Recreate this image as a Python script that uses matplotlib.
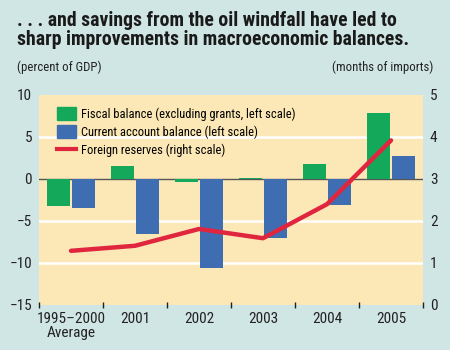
import matplotlib.pyplot as plt
from matplotlib.patches import Patch
from matplotlib.lines import Line2D
import numpy as np

# data
years = ['1995\u20132000\nAverage', '2001', '2002', '2003', '2004', '2005']
fiscal = [-3.2, 1.6, -0.3, 0.1, 1.8, 7.9]
current = [-3.4, -6.6, -10.6, -7.0, -3.1, 2.7]
reserves = [1.29, 1.41, 1.81, 1.59, 2.40, 3.92]

left_ticks = [-15, -10, -5, 0, 5, 10]
right_ticks = [0, 1, 2, 3, 4, 5]

green = '#14a85a'
blue = '#3e6db2'
red = '#e0263e'
outer_bg = '#d0e6e4'
plot_bg = '#fce8b6'

font = ['Liberation Sans Narrow', 'Roboto Condensed', 'Archivo Narrow',
        'PT Sans Narrow', 'DejaVu Sans']
plt.rcParams['font.family'] = font

fig = plt.figure(figsize=(4.5, 3.5), dpi=100)
fig.patch.set_facecolor(outer_bg)

W, H = 450, 350
ax = fig.add_axes([39 / W, (H - 305) / H, 384 / W, 210 / H])
ax.set_facecolor(plot_bg)

x = np.arange(len(years))
w = 0.36
ax.bar(x - 0.2, fiscal, w, color=green, zorder=3)
ax.bar(x + 0.2, current, w, color=blue, zorder=3)

ax.set_xlim(-0.5, len(years) - 0.5)
ax.set_ylim(-15, 10)
for g in [-10, -5, 5]:
    ax.axhline(g, color='white', lw=1.8, zorder=1)
ax.axhline(0, color='#555555', lw=1.0, zorder=2)

for s in ax.spines.values():
    s.set_visible(False)

ax.set_yticks(left_ticks)
ax.tick_params(axis='y', length=0, pad=5, labelsize=11, colors='#222222')
ax.set_xticks(x)
ax.set_xticklabels(years, fontsize=11, color='#222222', linespacing=1.0)
ax.set_xticks(np.arange(-0.5, len(years)), minor=True)
ax.tick_params(axis='x', which='major', length=0, pad=5)
ax.tick_params(axis='x', which='minor', length=5, direction='inout', width=1, color='#222222')

ax2 = ax.twinx()
ax2.set_ylim(0, 5)
ax2.set_yticks(right_ticks)
ax2.tick_params(axis='y', length=0, pad=5, labelsize=11, colors='#222222')
for s in ax2.spines.values():
    s.set_visible(False)
ax2.plot(x, reserves, color=red, lw=3.2, solid_capstyle='round', zorder=4)

handles = [Patch(color=green), Patch(color=blue), Line2D([0], [0], color=red, lw=3)]
labels = ['Fiscal balance (excluding grants, left scale)',
          'Current account balance (left scale)',
          'Foreign reserves (right scale)']
ax2.legend(handles, labels, loc='upper left', bbox_to_anchor=(0.035, 0.965),
           frameon=False, fontsize=9, handlelength=1.5, handleheight=1.2,
           handletextpad=0.4, labelspacing=0.35, borderaxespad=0)

fig.text(17 / W, 1 - 30 / H, '. . . and savings from the oil windfall have led to\nsharp improvements in macroeconomic balances.',
         fontsize=14.2, fontweight='bold', color='#1a1a1a', va='center', ha='left', linespacing=1.0)
fig.text(17 / W, 1 - 67 / H, '(percent of GDP)', fontsize=9.2, color='#222222', va='center')
fig.text(433 / W, 1 - 67 / H, '(months of imports)', fontsize=9.2, color='#222222', va='center', ha='right')

fig.savefig('out.png', dpi=100, facecolor=outer_bg)
